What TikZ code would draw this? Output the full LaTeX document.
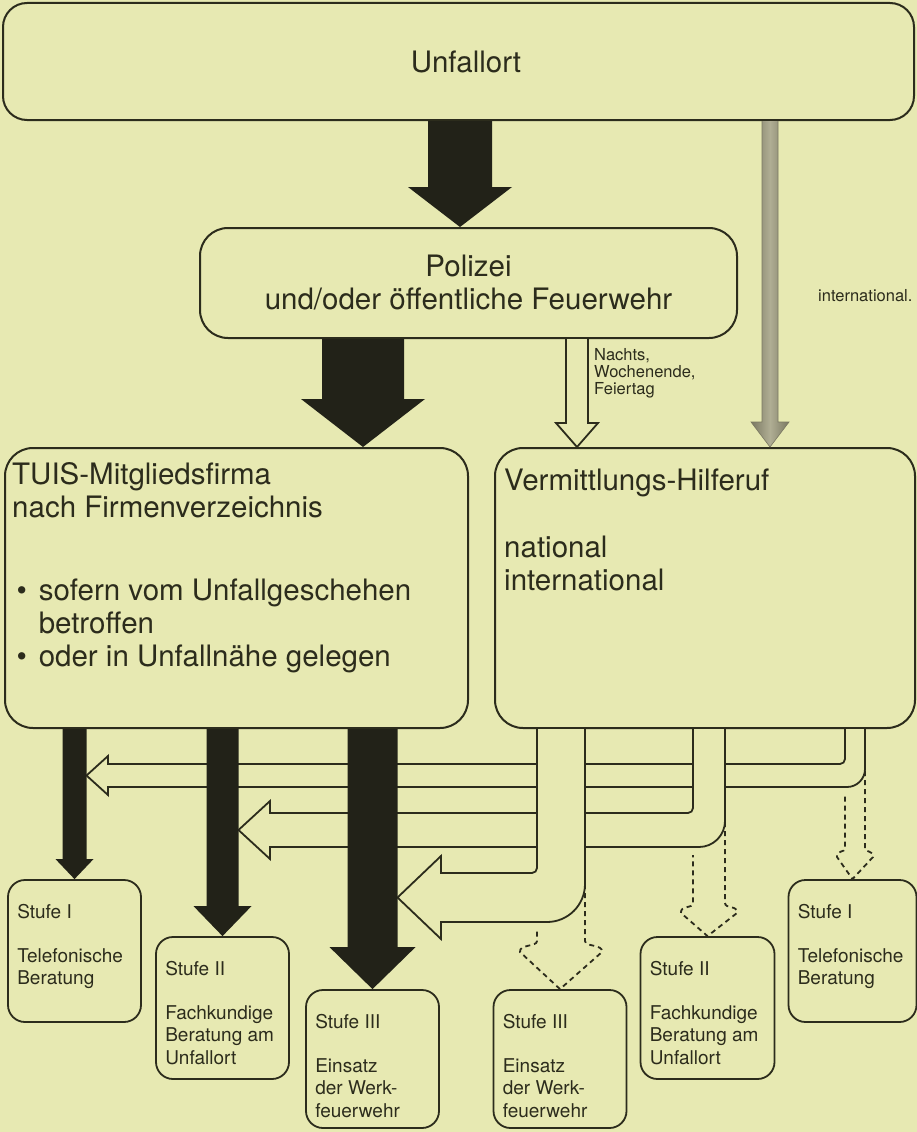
\documentclass[tikz,border=0pt]{standalone}
\usepackage{fontspec}
\setmainfont{TeX Gyre Heros}
\usetikzlibrary{calc}

\definecolor{papier}{HTML}{E7E9B2}
\definecolor{tinte}{HTML}{2C2C1C}
\definecolor{schwarz}{HTML}{222218}
\definecolor{grauD}{HTML}{7A7862}
\definecolor{grauH}{HTML}{B0AE94}

\tikzset{
  kasten/.style={draw=tinte, line width=2pt, rounded corners=28pt, inner sep=0pt},
  stufe/.style={draw=tinte, line width=1.8pt, rounded corners=17pt, inner sep=0pt},
  gross/.style={font=\fontsize{29.5}{33}\selectfont, text=tinte, inner sep=0pt},
  klein/.style={font=\fontsize{19}{22.5}\selectfont, text=tinte, inner sep=0pt, align=left},
  notiz/.style={font=\fontsize{16.5}{17}\selectfont, text=tinte, inner sep=0pt, align=left},
  voll/.style={fill=schwarz},
  hohl/.style={fill=papier, draw=tinte, line width=1.8pt},
  grau/.style={left color=grauD, right color=grauD, middle color=grauH, draw=grauD, line width=0.6pt},
  gestrichelt/.style={draw=tinte, line width=1.8pt, dash pattern=on 5pt off 4pt},
}

\newcommand{\punkt}{\hspace*{0.15em}\makebox[0.75em][l]{\textbullet}}

% Stufenkasten: Name, x, y, Breite, Hoehe, Text
\newcommand{\stufenkasten}[6]{%
  \node[stufe, minimum width=#4pt, minimum height=#5pt] (#1) at (#2,#3) {};
  \node[klein, anchor=north west] (#1-t) at ([xshift=10pt,yshift=-25pt]#1.north west) {#6};
}

% Blockpfeil nach unten: Stil, x, von, nach, halbe Schaftbreite, halbe Spitzenbreite, Spitzenlaenge
\newcommand{\pfeilrunter}[7]{%
  \path[#1] (#2-#5,0 |- #3.south)
    -- ($(#2-#5,0 |- #4.north)+(0,-#7)$)
    -- ($(#2-#6,0 |- #4.north)+(0,-#7)$)
    -- (#2,0 |- #4.north)
    -- ($(#2+#6,0 |- #4.north)+(0,-#7)$)
    -- ($(#2+#5,0 |- #4.north)+(0,-#7)$)
    -- (#2+#5,0 |- #3.south);
}

\begin{document}
\begin{tikzpicture}[x=1pt, y=-1pt]
        \fill[papier] (0,0) rectangle (917,1132);
        \useasboundingbox (0,0) rectangle (917,1132);

        % Kaesten oben
        \node[kasten, rounded corners=24pt, minimum width=911pt, minimum height=117pt] (unfall) at (458.5,61.5) {};
        \node[gross] (unfall-t) at (466,61.5) {Unfallort};
        \node[kasten, minimum width=537pt, minimum height=110pt, gross, align=center] (polizei) at (468.5,283) {Polizei\\und/oder öffentliche Feuerwehr};
        \node[kasten, minimum width=463pt, minimum height=280pt] (tuis) at (236.5,588) {};
        \node[kasten, minimum width=420pt, minimum height=280pt] (vermittlung) at (705,588) {};

        \node[gross, anchor=north west, align=left] (tuis-t) at ([xshift=8pt,yshift=-15pt]tuis.north west)
            {TUIS-Mitgliedsfirma\\nach Firmenverzeichnis\\[50pt]\punkt sofern vom Unfallgeschehen\\\hspace*{0.9em}betroffen\\\punkt oder in Unfallnähe gelegen};
        \node[gross, anchor=north west, align=left] (vermittlung-t) at ([xshift=10pt,yshift=-22pt]vermittlung.north west)
            {Vermittlungs-Hilferuf\\[34pt]national\\international};

        \node[notiz, anchor=north west] (nachts) at (594,348) {Nachts,\\Wochenende,\\Feiertag};
        \node[notiz, anchor=west] (intl) at (818,296) {international.};

        % Stufen
        \stufenkasten{stufeIl}{74.5}{951}{133}{142}{Stufe I\\[21pt]Telefonische\\Beratung}
        \stufenkasten{stufeIIl}{222.5}{1008}{133}{142}{Stufe II\\[21pt]Fachkundige\\Beratung am\\Unfallort}
        \stufenkasten{stufeIIIl}{372.5}{1059}{133}{138}{Stufe III\\[21pt]Einsatz\\der Werk-\\feuerwehr}
        \stufenkasten{stufeIIIr}{560}{1059}{133}{138}{Stufe III\\[21pt]Einsatz\\der Werk-\\feuerwehr}
        \stufenkasten{stufeIIr}{707.5}{1008}{134}{142}{Stufe II\\[21pt]Fachkundige\\Beratung am\\Unfallort}
        \stufenkasten{stufeIr}{852.5}{951}{128}{142}{Stufe I\\[21pt]Telefonische\\Beratung}

        % Hohlpfeile aus dem Vermittlungs-Hilferuf
        \coordinate (spitzeC) at (86.5,775.5);
        \coordinate (spitzeB) at (238.5,830);
        \coordinate (spitzeA) at (397.5,897.5);

        \path[hohl] (845,0 |- vermittlung.south) [rounded corners=5pt] -- (845,764) -- (600,764) [sharp corners]
            -- (108,764) -- (108,756) -- (spitzeC) -- (108,795) -- (108,787) -- (700,787)
            [rounded corners=18pt] -- (865,787) -- (865,750) [sharp corners] -- (865,0 |- vermittlung.south);
        \path[hohl] (693,0 |- vermittlung.south) [rounded corners=5pt] -- (693,813) -- (500,813) [sharp corners]
            -- (270,813) -- (270,801) -- (spitzeB) -- (270,859) -- (270,847) -- (600,847)
            [rounded corners=26pt] -- (725,847) -- (725,760) [sharp corners] -- (725,0 |- vermittlung.south);
        \path[hohl] (537,0 |- vermittlung.south) [rounded corners=5pt] -- (537,873) -- (480,873) [sharp corners]
            -- (441,873) -- (441,856) -- (spitzeA) -- (441,939) -- (441,922) -- (480,922)
            [rounded corners=38pt] -- (585,922) -- (585,800) [sharp corners] -- (585,0 |- vermittlung.south);

        % gestrichelte Fortsetzungen
        \draw[gestrichelt] (585,884) -- (585,941) .. controls (585,947) and (603,944) .. (602,952) -- (stufeIIIr.north)
            -- (520,952) .. controls (519,944) and (537,947) .. (537,941) -- (537,930);
        \draw[gestrichelt] (725,822) -- (725,903) .. controls (725,909) and (738,905) .. (737,913) -- (stufeIIr.north)
            -- (681,913) .. controls (680,905) and (693,909) .. (693,903) -- (693,855);
        \draw[gestrichelt] (865,771) -- (865,848) .. controls (865,853) and (874,850) .. (873,857) -- (stufeIr.north)
            -- (837,857) .. controls (836,850) and (845,853) .. (845,848) -- (845,793);

        % Blockpfeile
        \pfeilrunter{voll}{460}{unfall}{polizei}{32}{52}{40}
        \pfeilrunter{voll}{363}{polizei}{tuis}{41}{62}{48}
        \pfeilrunter{voll}{74.5}{tuis}{stufeIl}{12}{19}{20}
        \pfeilrunter{voll}{222.5}{tuis}{stufeIIl}{16}{29}{30}
        \pfeilrunter{voll}{372.5}{tuis}{stufeIIIl}{25}{43}{42}
        \pfeilrunter{hohl}{577}{polizei}{vermittlung}{11}{21}{24}
        \pfeilrunter{grau}{770}{unfall}{vermittlung}{8}{19}{25}
\end{tikzpicture}
\end{document}
